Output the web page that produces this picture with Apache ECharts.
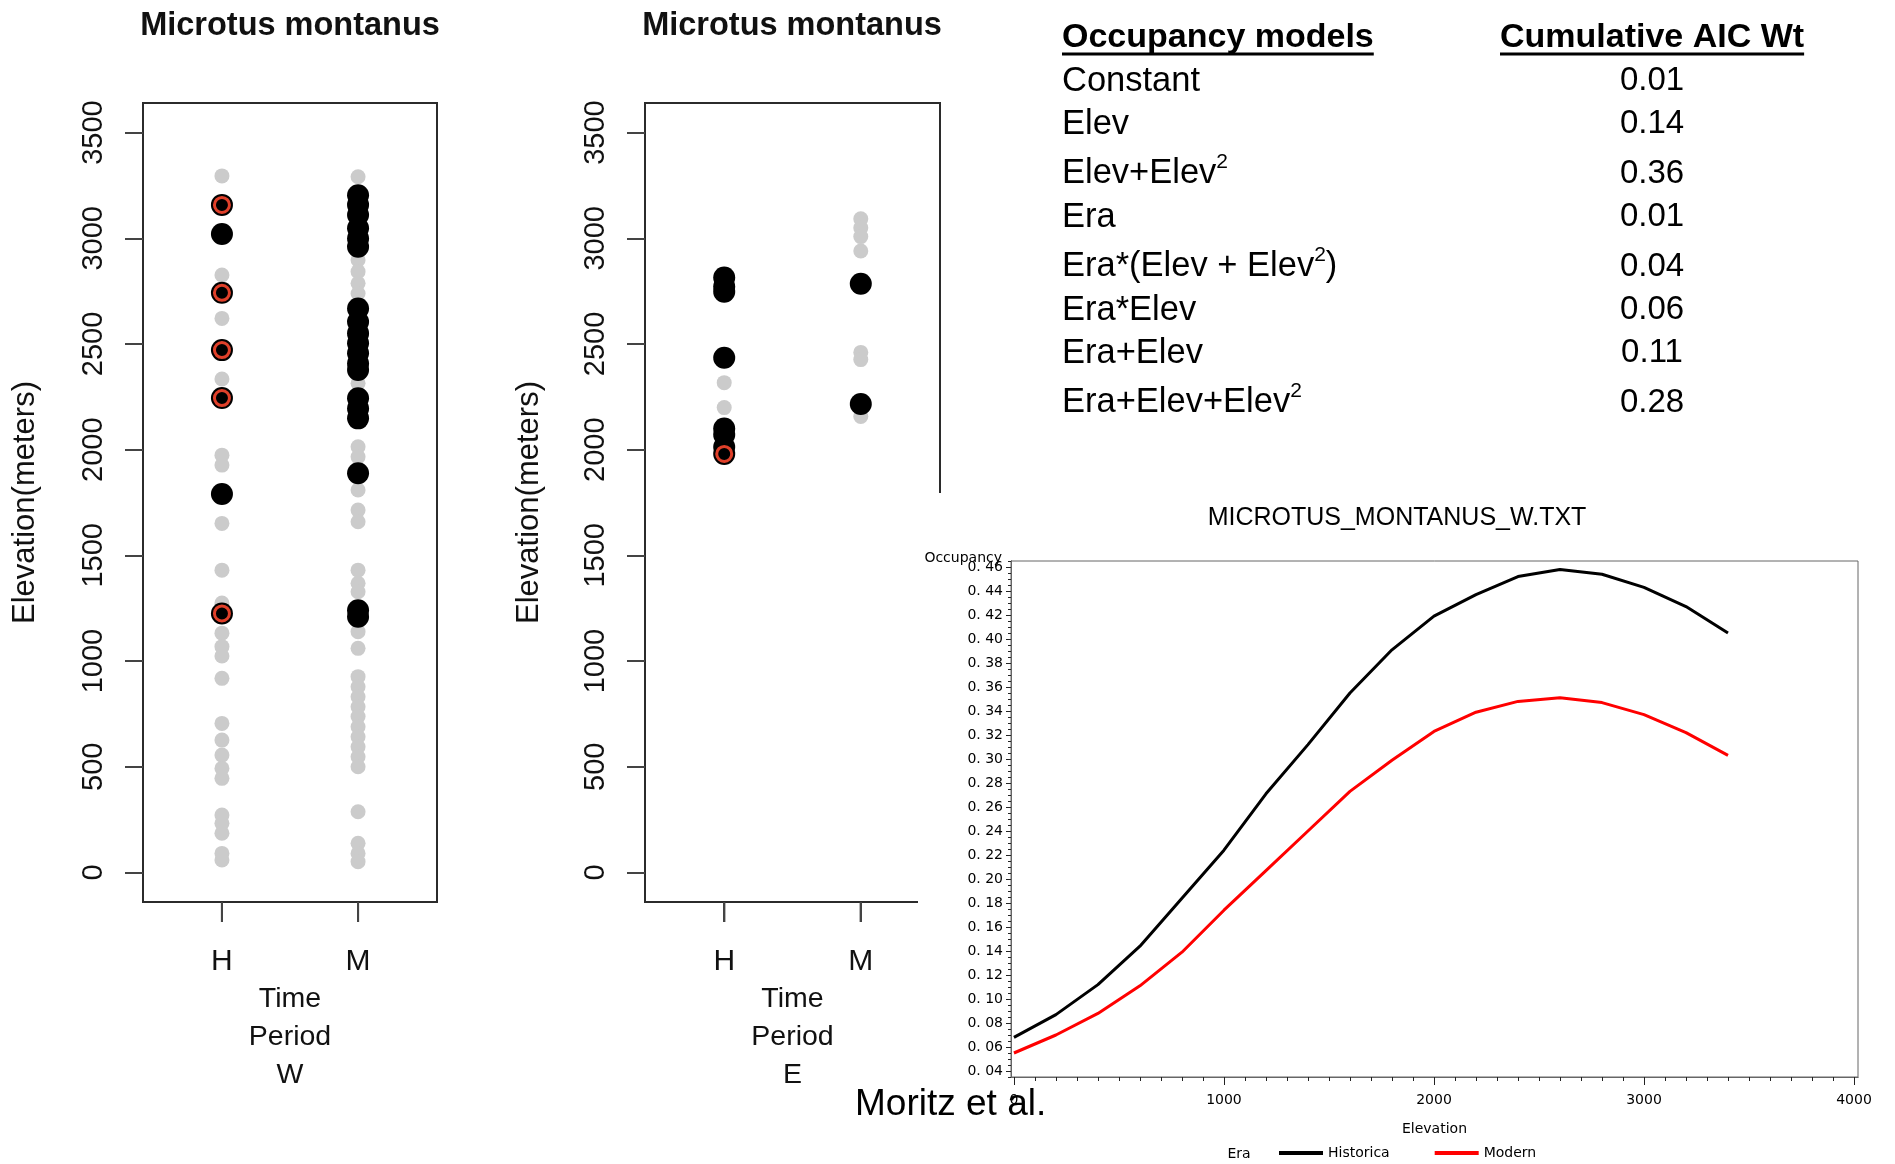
<!DOCTYPE html>
<html><head><meta charset="utf-8">
<script src="https://cdn.jsdelivr.net/npm/echarts@6/dist/echarts.min.js"></script>
<style>html,body{margin:0;padding:0;background:#fff}#c{width:1895px;height:1164px}</style>
</head><body><div id="c"></div>
<script>
// ---------- DATA ----------
const categories = ['H', 'M'];
const elevTicks = [0, 500, 1000, 1500, 2000, 2500, 3000, 3500];

// Panel W (left)
const wHistGray  = [3295, 2826, 2621, 2334, 1974, 1927, 1651, 1430, 1274, 1132, 1068, 1024, 918, 705, 626, 555, 492, 445, 271, 232, 185, 90, 59];
const wHistBlack = [3158, 3020, 2742, 2471, 2244, 1790, 1225];
const wHistRing  = [3158, 2742, 2471, 2244, 1225];
const wModGray   = [3291, 2897, 2842, 2787, 2739, 2314, 2014, 1966, 1809, 1714, 1659, 1430, 1368, 1328, 1139, 1060, 926, 878, 831, 784, 737, 689, 642, 594, 547, 500, 287, 138, 90, 51];
const wModBlack  = [3204, 3158, 3110, 3047, 2999, 2960, 2668, 2605, 2550, 2503, 2456, 2408, 2377, 2243, 2195, 2148, 1888, 1240, 1210];

// Panel E (middle)
const eHistGray  = [2317, 2199];
const eHistBlack = [2814, 2772, 2747, 2435, 2100, 2070, 2013, 1980];
const eHistRing  = [1980];
const eModGray   = [3092, 3050, 3008, 2940, 2460, 2426, 2157];
const eModBlack  = [2785, 2216];

// Occupancy curve chart
const elevGrid      = [0, 200, 400, 600, 800, 1000, 1200, 1400, 1600, 1800, 2000, 2200, 2400, 2600, 2800, 3000, 3200, 3400];
const occHistorical = [0.068, 0.087, 0.112, 0.144, 0.184, 0.224, 0.271, 0.312, 0.355, 0.391, 0.419, 0.437, 0.452, 0.458, 0.454, 0.443, 0.427, 0.405];
const occModern     = [0.055, 0.070, 0.088, 0.111, 0.139, 0.174, 0.207, 0.240, 0.273, 0.299, 0.323, 0.339, 0.348, 0.351, 0.347, 0.337, 0.322, 0.303];
const occTicks  = [0.04, 0.06, 0.08, 0.10, 0.12, 0.14, 0.16, 0.18, 0.20, 0.22, 0.24, 0.26, 0.28, 0.30, 0.32, 0.34, 0.36, 0.38, 0.40, 0.42, 0.44, 0.46];
const elevationTicks = [0, 1000, 2000, 3000, 4000];

// Table
const models  = ['Constant', 'Elev', 'Elev+Elev{s|2}', 'Era', 'Era*(Elev + Elev{s|2})', 'Era*Elev', 'Era+Elev', 'Era+Elev+Elev{s|2}'];
const weights = ['0.01', '0.14', '0.36', '0.01', '0.04', '0.06', '0.11', '0.28'];

// ---------- BUILD ----------
const SANS = '"Liberation Sans", Arial, Helvetica, sans-serif';
const DEJA = '"DejaVu Sans", Verdana, sans-serif';
const RED = '#e0402a';
const PANEL_X = [0.42, 2.58];
const PANEL_Y = [-140, 3640];
const PANEL_GRIDS = [
  { left: 143, top: 103, width: 294, height: 799 },
  { left: 645, top: 103, width: 295, height: 799 }
];

// minor tick positions (derived from the axis spacing)
const occMinor = [];
for (let i = 7; i <= 93; i++) { if ((i % 4) !== 0) occMinor.push(+(i * 0.005).toFixed(3)); }
const elevMinor = [];
for (let v = 100; v < 4000; v += 100) { if (v % 1000 !== 0) elevMinor.push(v); }

function pts(col, arr) { return arr.map(v => [col, v]); }

function panelX(grid, letter) {
  return {
    gridIndex: grid, type: 'value', min: PANEL_X[0], max: PANEL_X[1], position: 'bottom',
    axisLine: { show: true, onZero: false, lineStyle: { color: '#2b2b2b', width: 2 } }, splitLine: { show: false },
    axisTick: { show: true, customValues: [1, 2], length: 20, lineStyle: { color: '#444', width: 2 } },
    axisLabel: { customValues: [1, 2], formatter: v => categories[Math.round(v) - 1], margin: 50, lineHeight: 20,
      fontSize: 30, color: '#111', fontFamily: SANS },
    name: 'Time\nPeriod\n' + letter, nameLocation: 'middle', nameGap: 78, nameMoveOverlap: false,
    nameTextStyle: { fontSize: 28.5, lineHeight: 38, color: '#111', fontFamily: SANS }
  };
}
function panelY(grid, gap) {
  return {
    gridIndex: grid, type: 'value', min: PANEL_Y[0], max: PANEL_Y[1], position: 'left',
    axisLine: { show: true, onZero: false, lineStyle: { color: '#2b2b2b', width: 2 } }, splitLine: { show: false },
    axisTick: { show: true, customValues: elevTicks, length: 18, lineStyle: { color: '#444', width: 2 } },
    axisLabel: { customValues: elevTicks, rotate: 90, margin: 35, fontSize: 29, color: '#111', fontFamily: SANS,
      formatter: v => String(v) },
    name: 'Elevation(meters)', nameLocation: 'middle', nameRotate: 90, nameGap: gap,
    nameTextStyle: { fontSize: 31, color: '#111', fontFamily: SANS }
  };
}
function scatter(xi, data, kind) {
  const base = { type: 'scatter', xAxisIndex: xi, yAxisIndex: xi, data: data, symbol: 'circle', silent: true };
  if (kind === 'gray') return Object.assign(base, { symbolSize: 15, itemStyle: { color: '#cbcbcb', opacity: 1 }, z: 2 });
  if (kind === 'black') return Object.assign(base, { symbolSize: 22, itemStyle: { color: '#000', opacity: 1 }, z: 3 });
  return Object.assign(base, { symbolSize: 15, itemStyle: { color: '#000', opacity: 1, borderColor: RED, borderWidth: 3 }, z: 4 });
}
// category tick marks hanging below the panel frame, placed through the panel scales
function tickMarks(xi) {
  return { type: 'scatter', xAxisIndex: xi, yAxisIndex: xi, silent: true, clip: false,
    data: [[1, PANEL_Y[0]], [2, PANEL_Y[0]]], symbol: 'rect', symbolSize: [2, 20], symbolOffset: [0, 10],
    itemStyle: { color: '#444', opacity: 1 }, z: 20 };
}

const series = [
  scatter(0, pts(1, wHistGray), 'gray'), scatter(0, pts(2, wModGray), 'gray'),
  scatter(0, pts(1, wHistBlack), 'black'), scatter(0, pts(2, wModBlack), 'black'),
  scatter(0, pts(1, wHistRing), 'ring'), tickMarks(0),
  scatter(1, pts(1, eHistGray), 'gray'), scatter(1, pts(2, eModGray), 'gray'),
  scatter(1, pts(1, eHistBlack), 'black'), scatter(1, pts(2, eModBlack), 'black'),
  scatter(1, pts(1, eHistRing), 'ring'), tickMarks(1),
  { type: 'line', name: 'Historica', xAxisIndex: 2, yAxisIndex: 2, data: elevGrid.map((e, i) => [e, occHistorical[i]]),
    showSymbol: false, symbol: 'none', lineStyle: { color: '#000', width: 3 }, itemStyle: { color: '#000' }, z: 60 },
  { type: 'line', name: 'Modern', xAxisIndex: 2, yAxisIndex: 2, data: elevGrid.map((e, i) => [e, occModern[i]]),
    showSymbol: false, symbol: 'none', lineStyle: { color: '#ff0000', width: 3 }, itemStyle: { color: '#ff0000' }, z: 60 }
];

// text measuring for the underlines
const mctx = document.createElement('canvas').getContext('2d');
function textW(t, font) { mctx.font = font; return mctx.measureText(t).width; }

function gtext(x, y, text, opt) {
  opt = opt || {};
  return {
    type: 'text', x: x, y: y, z: opt.z || 100,
    style: Object.assign({
      text: text, fill: opt.fill || '#000',
      fontSize: opt.fontSize || 30, fontWeight: opt.fontWeight || 'normal', fontFamily: opt.fontFamily || SANS,
      textAlign: opt.align || 'left', align: opt.align || 'left',
      textVerticalAlign: 'middle', verticalAlign: 'middle'
    }, opt.extra || {})
  };
}

const graphics = [];
// overlay of the pasted occupancy plot
graphics.push({ type: 'rect', z: 50, shape: { x: 918, y: 493, width: 977, height: 671 }, style: { fill: '#fff' } });
// panel titles
graphics.push(gtext(290, 26, 'Microtus montanus', { fontSize: 32.5, fontWeight: 'bold', align: 'center', fill: '#111' }));
graphics.push(gtext(792, 26, 'Microtus montanus', { fontSize: 32.5, fontWeight: 'bold', align: 'center', fill: '#111' }));
// table header
const hdrFont = 'bold 34px ' + SANS;
const hdr1 = 'Occupancy models', hdr2 = 'Cumulative AIC Wt';
graphics.push(gtext(1062, 38, hdr1, { fontSize: 34, fontWeight: 'bold' }));
graphics.push(gtext(1500, 38, hdr2, { fontSize: 34, fontWeight: 'bold' }));
graphics.push({ type: 'line', z: 100, shape: { x1: 1062, y1: 54, x2: 1062 + textW(hdr1, hdrFont), y2: 54 }, style: { stroke: '#000', lineWidth: 3 } });
graphics.push({ type: 'line', z: 100, shape: { x1: 1500, y1: 54, x2: 1500 + textW(hdr2, hdrFont), y2: 54 }, style: { stroke: '#000', lineWidth: 3 } });
// table rows
let rowY = 81;
models.forEach((m, i) => {
  const sup = m.indexOf('{s|') >= 0;
  if (i > 0) rowY += 43.4 + (sup ? 6 : 0);
  graphics.push(gtext(1062, rowY, m, { fontSize: 34.5, extra: { lineHeight: 44, rich: { s: { fontSize: 21, lineHeight: 20, verticalAlign: 'top', fontFamily: SANS, fill: '#000' } } } }));
  graphics.push(gtext(1652, rowY, weights[i], { fontSize: 33, align: 'center' }));
});
// occupancy plot texts
graphics.push(gtext(1397, 518, 'MICROTUS_MONTANUS_W.TXT', { fontSize: 25, align: 'center' }));
graphics.push(gtext(1002, 558, 'Occupancy', { fontSize: 14, fontFamily: DEJA, align: 'right', z: 110 }));
graphics.push(gtext(1239, 1154, 'Era', { fontSize: 14, fontFamily: DEJA, align: 'center' }));
graphics.push(gtext(855, 1105, 'Moritz et al.', { fontSize: 37, z: 120 }));
// H / M tick marks (same layout constants as the panel grids and x scales)
PANEL_GRIDS.forEach(g => {
  [1, 2].forEach(v => {
    const x = g.left + (v - PANEL_X[0]) / (PANEL_X[1] - PANEL_X[0]) * g.width;
    const yb = g.top + g.height;
    graphics.push({ type: 'line', z: 200, shape: { x1: x, y1: yb, x2: x, y2: yb + 20 }, style: { stroke: '#444', lineWidth: 2 } });
  });
});

const option = {
  animation: false,
  backgroundColor: '#fff',
  grid: [
    Object.assign({ show: true, borderColor: '#2b2b2b', borderWidth: 2, backgroundColor: 'transparent' }, PANEL_GRIDS[0]),
    Object.assign({ show: true, borderColor: '#2b2b2b', borderWidth: 2, backgroundColor: 'transparent' }, PANEL_GRIDS[1]),
    { left: 1011, top: 561, width: 847, height: 516, show: true, borderColor: '#666', borderWidth: 1, backgroundColor: 'transparent', z: 60 }
  ],
  xAxis: [
    panelX(0, 'W'),
    panelX(1, 'E'),
    { gridIndex: 2, type: 'value', min: -14, max: 4019, position: 'bottom', z: 60,
      axisLine: { show: true, lineStyle: { color: '#666', width: 1 } }, splitLine: { show: false },
      axisTick: { show: true, customValues: elevationTicks, length: 8, lineStyle: { color: '#222', width: 1 } },
      axisLabel: { customValues: elevationTicks, margin: 16, fontSize: 14, fontFamily: DEJA, color: '#000',
        formatter: v => String(v) },
      name: 'Elevation', nameLocation: 'middle', nameGap: 45,
      nameTextStyle: { fontSize: 14, fontFamily: DEJA, color: '#000' } },
    { gridIndex: 2, type: 'value', min: -14, max: 4019, position: 'bottom', offset: 0, z: 60,
      axisLine: { show: true, lineStyle: { color: '#666', width: 1 } }, splitLine: { show: false }, axisLabel: { show: false },
      axisTick: { show: true, customValues: elevMinor, length: 4, lineStyle: { color: '#222', width: 1 } } }
  ],
  yAxis: [
    panelY(0, 102),
    panelY(1, 100),
    { gridIndex: 2, type: 'value', min: 0.035, max: 0.465, position: 'left', z: 60,
      axisLine: { show: true, onZero: false, lineStyle: { color: '#666', width: 1 } }, splitLine: { show: false },
      axisTick: { show: true, customValues: occTicks, length: 5, lineStyle: { color: '#222', width: 1 } },
      axisLabel: { customValues: occTicks, margin: 8, fontSize: 14, fontFamily: DEJA, color: '#000',
        formatter: v => v.toFixed(2).replace('.', '. ') } },
    { gridIndex: 2, type: 'value', min: 0.035, max: 0.465, position: 'left', offset: 0, z: 60,
      axisLine: { show: true, onZero: false, lineStyle: { color: '#666', width: 1 } }, splitLine: { show: false }, axisLabel: { show: false },
      axisTick: { show: true, customValues: occMinor, length: 3, lineStyle: { color: '#222', width: 1 } } }
  ],
  legend: { data: ['Historica', 'Modern'], left: 1279, top: 1146, padding: 0, itemWidth: 44, itemHeight: 4, icon: 'rect',
    itemGap: 45, z: 60, textStyle: { fontSize: 14, fontFamily: DEJA, color: '#000' } },
  series: series,
  graphic: graphics
};

const chart = echarts.init(document.getElementById('c'), null, { renderer: 'canvas' });
chart.setOption(option);
</script>
</body></html>
